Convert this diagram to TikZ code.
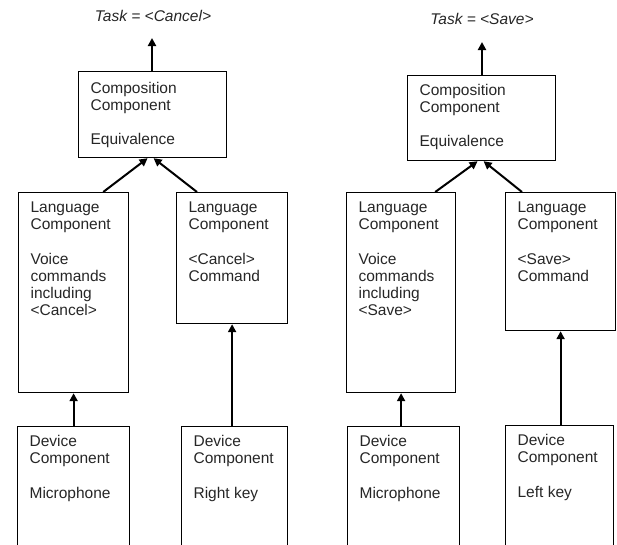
\documentclass[tikz,border=0pt]{standalone}
\usepackage{fontspec}
\setmainfont{Liberation Sans}
\usetikzlibrary{arrows.meta}
% box content: width, height, top gap, lines
\newcommand{\cellbox}[4]{\parbox[c][#2][t]{#1}{\leftskip=12pt\relax\vspace*{#3}\strut#4}}
\begin{document}
\begin{tikzpicture}[x=1pt,y=-1pt,
  every node/.style={font=\fontsize{15.5}{17}\selectfont, text=black!85},
  comp/.style={draw, line width=1.2pt, inner sep=0pt, anchor=north west},
  arr/.style={line width=2pt, -{Triangle[length=8pt,width=8pt]}},
  task/.style={inner sep=0pt, font=\fontsize{15.5}{17}\selectfont\itshape}]
\clip (0,0) rectangle (617,544);

% ---------------- Cancel task ----------------
\node[task] (taskL) at (153,16) {Task = <Cancel>};
\coordinate (tipL) at (152,38);
\node[comp] (compL) at (78,71)
  {\cellbox{148pt}{86pt}{10pt}{Composition\\Component\\[17pt]Equivalence}};
\node[comp] (langLL) at (18,192)
  {\cellbox{110pt}{200pt}{8pt}{Language\\Component\\[18pt]Voice\\commands\\including\\<Cancel>}};
\node[comp] (langLR) at (176,192)
  {\cellbox{111pt}{131pt}{8pt}{Language\\Component\\[18pt]<Cancel>\\Command}};
\node[comp] (devLL) at (17,426)
  {\cellbox{112pt}{150pt}{8pt}{Device\\Component\\[18pt]Microphone}};
\node[comp] (devLR) at (181,426)
  {\cellbox{106pt}{150pt}{8pt}{Device\\Component\\[18pt]Right key}};

\draw[arr] (compL.north -| tipL) -- (tipL);
\draw[arr] ([xshift=-26pt]langLL.north east) -- ([xshift=-5pt]compL.south);
\draw[arr] ([xshift=21pt]langLR.north west) -- ([xshift=1pt]compL.south);
\draw[arr] (devLL.north) -- (langLL.south);
\draw[arr] (langLR.south |- devLR.north) -- (langLR.south);

% ---------------- Save task ----------------
\node[task] (taskR) at (482,19) {Task = <Save>};
\coordinate (tipR) at (482,42);
\node[comp] (compR) at (407,75)
  {\cellbox{148pt}{85pt}{8pt}{Composition\\Component\\[17pt]Equivalence}};
\node[comp] (langRL) at (346,192)
  {\cellbox{109pt}{200pt}{8pt}{Language\\Component\\[18pt]Voice\\commands\\including\\<Save>}};
\node[comp] (langRR) at (505,192)
  {\cellbox{110pt}{138pt}{8pt}{Language\\Component\\[18pt]<Save>\\Command}};
\node[comp] (devRL) at (347,426)
  {\cellbox{112pt}{150pt}{8pt}{Device\\Component\\[18pt]Microphone}};
\node[comp] (devRR) at (505,425)
  {\cellbox{108pt}{150pt}{8pt}{Device\\Component\\[18pt]Left key}};

\draw[arr] (compR.north -| tipR) -- (tipR);
\draw[arr] ([xshift=-21pt]langRL.north east) -- ([xshift=-4pt]compR.south);
\draw[arr] ([xshift=17pt]langRR.north west) -- ([xshift=2pt]compR.south);
\draw[arr] (langRL.south |- devRL.north) -- (langRL.south);
\draw[arr] (langRR.south |- devRR.north) -- (langRR.south);
\end{tikzpicture}
\end{document}
